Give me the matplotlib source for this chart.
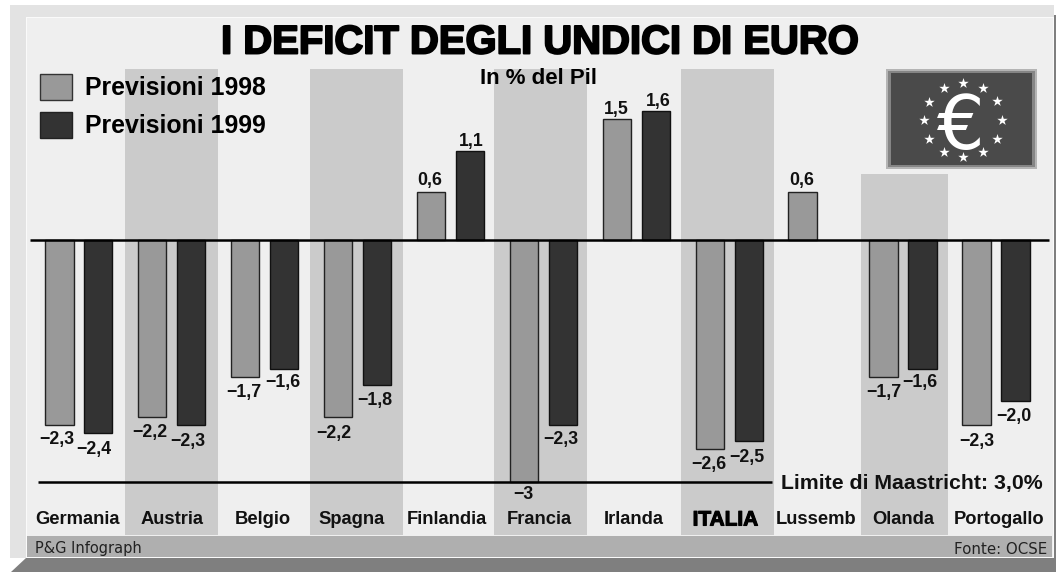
"""I deficit degli undici di euro: barre 1998/1999 in % del Pil."""
import matplotlib
matplotlib.use("Agg")
import matplotlib.pyplot as plt
import matplotlib.patheffects as pe
from matplotlib.patches import Patch, Polygon, Rectangle
import numpy as np

paesi = ["Germania", "Austria", "Belgio", "Spagna", "Finlandia", "Francia",
         "Irlanda", "ITALIA", "Lussemb", "Olanda", "Portogallo"]
prev_1998 = [-2.3, -2.2, -1.7, -2.2, 0.6, -3.0, 1.5, -2.6, 0.6, -1.7, -2.3]
prev_1999 = [-2.4, -2.3, -1.6, -1.8, 1.1, -2.3, 1.6, -2.5, None, -1.6, -2.0]
etichette_1998 = ["−2,3", "−2,2", "−1,7", "−2,2", "0,6", "−3", "1,5", "−2,6", "0,6", "−1,7", "−2,3"]
etichette_1999 = ["−2,4", "−2,3", "−1,6", "−1,8", "1,1", "−2,3", "1,6", "−2,5", "", "−1,6", "−2,0"]
limite = -3.0

# layout, in pixel of the picture
W, H = 1056, 572
Y0, PX_UNIT = 240, 80.5
centri = [78.8, 171.5, 264.7, 357.7, 450.7, 543.7, 636.4, 729.4, 822, 903, 996]
centri_nomi = [77, 172, 263, 352, 447, 539, 634, 725.5, 816, 903, 999]
fasce = [(125, 218, 69), (310, 403, 69), (494, 587, 69), (681, 774, 69), (861, 948, 174)]
BAR_W, BAR_OFF = 28.4, 19.5
# nudges of the value labels (dx, dy from the bar end)
nudge_98 = [(-2.5, 14), (-2.5, 15), (-1.5, 15.5), (-4, 16), (-2, -11), (-1, 13), (-1, -10), (-1, 15.5), (-.5, -11), (0, 15.5), (0, 16)]
nudge_99 = [(-4.7, 16), (-3, 16), (-1.5, 13.5), (-2, 16), (1, -10), (-2, 14), (2.5, -10), (-2.5, 16), (0, 0), (-2.5, 14), (-2, 15)]

PANEL = "#efefef"
FASCIA = "#cbcbcb"
C98, C99 = "#999999", "#333333"
SANS = ["Liberation Sans", "DejaVu Sans"]

fig = plt.figure(figsize=(W / 100, H / 100), dpi=100, facecolor="white")

bg = fig.add_axes([0, 0, 1, 1])
bg.set_xlim(0, W)
bg.set_ylim(H, 0)
bg.axis("off")

# bevelled frame
bg.add_patch(Polygon([(10, 4.5), (1054, 4.5), (1054, 17), (26, 17), (26, 558), (10, 558)], fc="#e3e3e3", lw=0))
bg.add_patch(Polygon([(26, 558), (W, 558), (W, H), (11, H)], fc="#7f7f7f", lw=0))
bg.add_patch(Rectangle((1054, 15), 2, 545, fc="#7f7f7f", lw=0))
bg.add_patch(Rectangle((26, 17), 1028, 541, fc="#fafafa", lw=0))
bg.add_patch(Rectangle((27, 18), 1026, 539, fc=PANEL, lw=0))
bg.add_patch(Rectangle((27, 536), 1025, 21, fc="#afafaf", lw=0))

for x0, x1, top in fasce:
    bg.add_patch(Rectangle((x0, top), x1 - x0, 535 - top, fc=FASCIA, lw=0))

# euro logo
bg.add_patch(Rectangle((886, 69), 150.5, 100, fc="#b4b4b4", lw=0))
bg.add_patch(Rectangle((888, 71), 146.5, 96, fc="#858585", lw=0))
bg.add_patch(Rectangle((891, 73), 141, 92, fc="#4a4a4a", lw=0))
ang = np.deg2rad(np.arange(0, 360, 30))
bg.scatter(963 + 39 * np.cos(ang), 120 + 37 * np.sin(ang), marker="*", s=62, c="white", lw=0)
bg.text(961, 120, "€", family="DejaVu Sans", fontsize=54, color="white", ha="center", va="center_baseline")

bg.text(539, 42.5, "I DEFICIT DEGLI UNDICI DI EURO", family=SANS, fontsize=28.8, fontweight="bold",
        ha="center", va="center", color="black",
        path_effects=[pe.withStroke(linewidth=1.4, foreground="black")])
bg.text(539, 78, "In % del Pil", family=SANS, fontsize=16, fontweight="bold", ha="center", va="center")
bg.text(1043, 483, "Limite di Maastricht: 3,0%", family=SANS, fontsize=15.3, fontweight="bold", ha="right", va="center", color="#111111")
bg.text(35, 549, "P&G Infograph", family="DejaVu Sans", fontsize=10.5, ha="left", va="center", color="#222222")
bg.text(1047, 549, "Fonte: OCSE", family="DejaVu Sans", fontsize=10.8, ha="right", va="center", color="#222222")

for nome, cx in zip(paesi, centri_nomi):
    if nome == "ITALIA":
        bg.text(cx, 520, nome, family=SANS, fontsize=15, fontweight="bold", ha="center", va="center",
                path_effects=[pe.withStroke(linewidth=0.8, foreground="black")])
    else:
        bg.text(cx, 520, nome, family=SANS, fontsize=13.2, fontweight="bold", ha="center", va="center", color="#111111")

# value axes: same box as the picture, y in % del Pil
ax = fig.add_axes([0, 0, 1, 1], facecolor="none")
ax.set_xlim(0, W)
ax.set_ylim((Y0 - H) / PX_UNIT, Y0 / PX_UNIT)
ax.axis("off")

x98 = np.array(centri) - BAR_OFF
x99 = np.array(centri) + BAR_OFF
ax.bar(x98, prev_1998, BAR_W, color=C98, edgecolor="#222222", linewidth=1.0)
for x, v in zip(x99, prev_1999):
    if v is not None:
        ax.bar(x, v, BAR_W, color=C99, edgecolor="#111111", linewidth=1.0)

ax.plot([30, 1049], [0, 0], color="black", lw=1.8, solid_capstyle="butt")
ax.plot([38, 772], [limite, limite], color="black", lw=1.8, solid_capstyle="butt")


def etichetta(x, v, txt, nudge):
    ax.annotate(txt, (x, v), xytext=(nudge[0] * 0.72, -nudge[1] * 0.72), textcoords="offset points",
                family=SANS, fontsize=12.8, fontweight="bold", ha="center", va="center", color="#111111")


for x, v, t, n in zip(x98, prev_1998, etichette_1998, nudge_98):
    etichetta(x, v, t, n)
for x, v, t, n in zip(x99, prev_1999, etichette_1999, nudge_99):
    if v is not None:
        etichetta(x, v, t, n)

handles = [Patch(fc=C98, ec="#333333", lw=1.0, label="Previsioni 1998"),
           Patch(fc=C99, ec="#222222", lw=1.0, label="Previsioni 1999")]
ax.legend(handles=handles, loc="upper left", bbox_to_anchor=(40 / W, 1 - 74 / H), frameon=False,
          prop={"family": SANS, "size": 17.9, "weight": "bold"}, borderpad=0, borderaxespad=0,
          handlelength=1.3, handleheight=1.22, handletextpad=0.52, labelspacing=0.47)

fig.savefig("out.png", dpi=100)
